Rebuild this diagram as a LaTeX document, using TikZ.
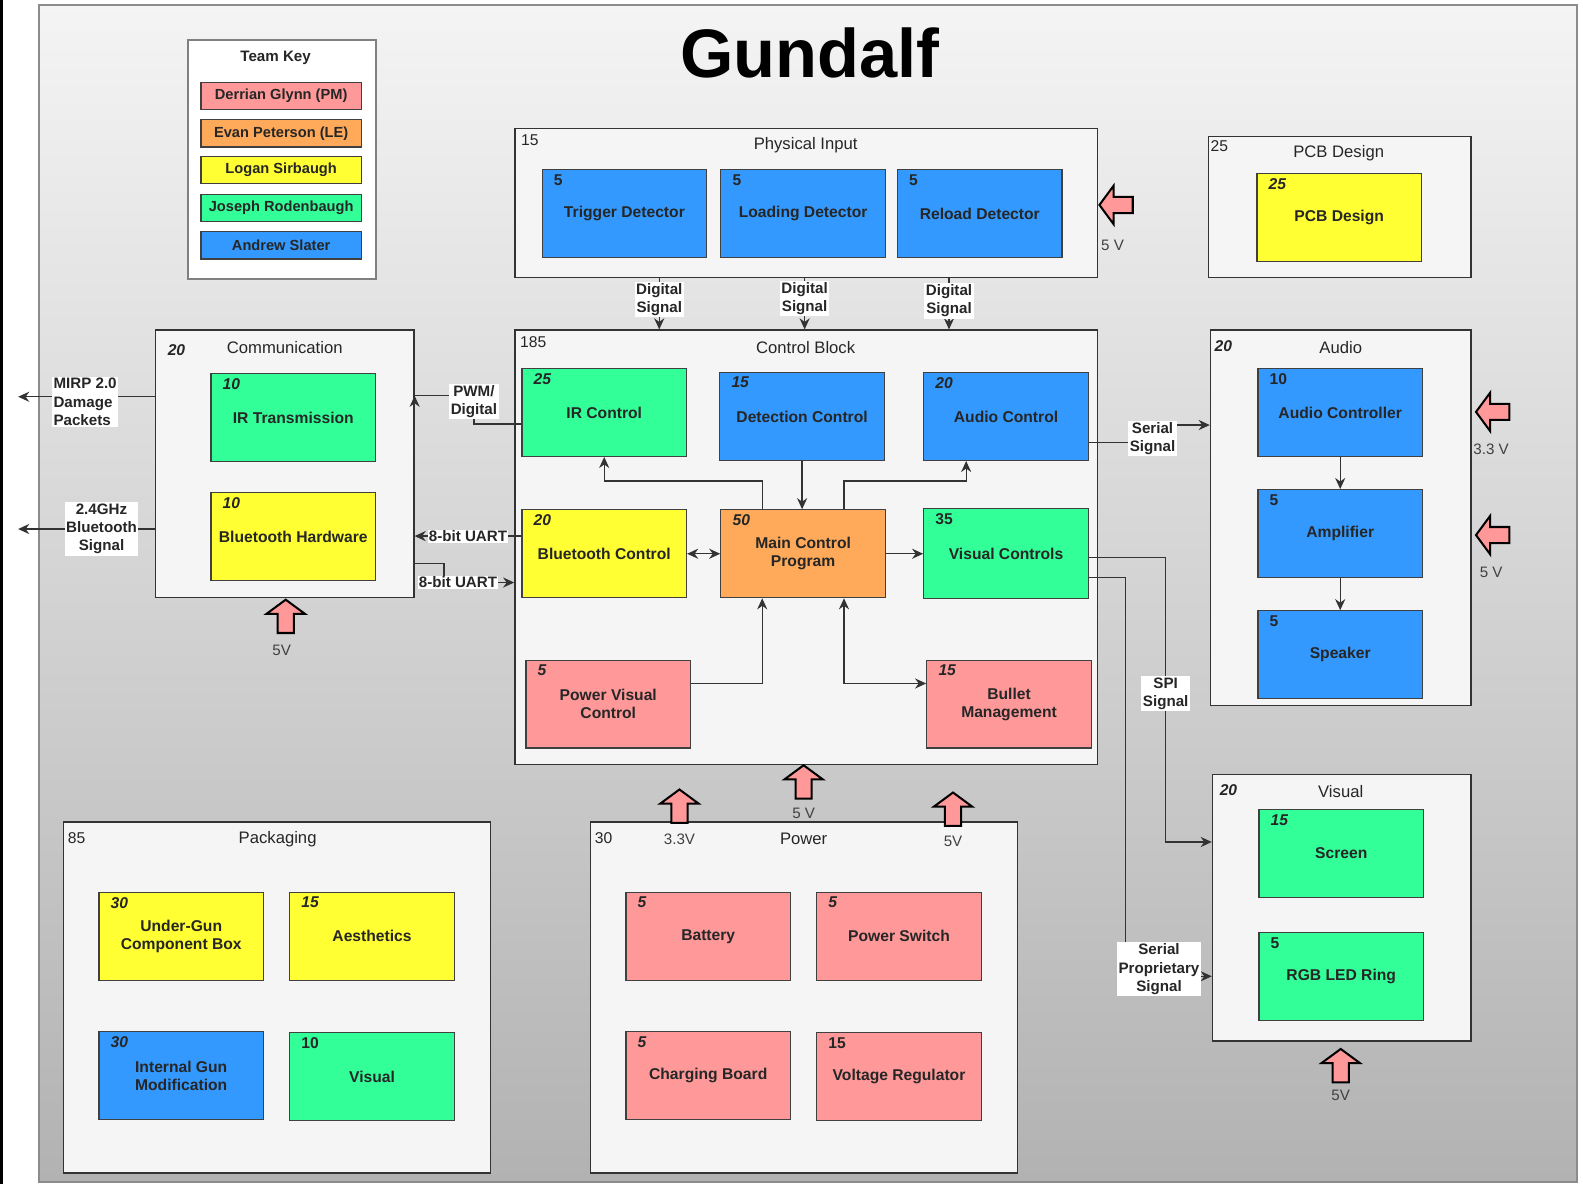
\documentclass[tikz,border=0pt]{standalone}
\usepackage{fontspec}
\setmainfont{Liberation Sans}
\usetikzlibrary{arrows.meta,calc}
\definecolor{cpink}{HTML}{FF9999}
\definecolor{corange}{HTML}{FFAA5A}
\definecolor{cyellow}{HTML}{FFFF33}
\definecolor{cgreen}{HTML}{33FF99}
\definecolor{cblue}{HTML}{3399FF}
\definecolor{outfill}{HTML}{F5F5F5}
\definecolor{pantop}{HTML}{F4F4F4}
\definecolor{panbot}{HTML}{B2B2B2}
\newcommand\pwrup[2]{\draw[pwr] (#1,#2) -- ++(-19,14) -- ++(11,0) -- ++(0,19) -- ++(16,0) -- ++(0,-19) -- ++(11,0) -- cycle;}
\newcommand\pwrleft[2]{\draw[pwr] (#1,#2) -- ++(14,-19) -- ++(0,11) -- ++(19,0) -- ++(0,16) -- ++(-19,0) -- ++(0,11) -- cycle;}
\begin{document}
\begin{tikzpicture}[x=1pt,y=-1pt,
  outerbox/.style={draw=black!80, line width=1.4pt, fill=outfill, inner sep=0pt},
  blk/.style={draw=black!75, line width=1.2pt, minimum width=163pt, minimum height=87pt, inner sep=2pt, align=center, text=black!85, font=\bfseries\fontsize{15.5pt}{18pt}\selectfont},
  nm/.style={anchor=north west, xshift=12pt, yshift=-5pt, inner sep=0pt, text=black!85, font=\bfseries\fontsize{15.5pt}{18pt}\selectfont},
  nmi/.style={nm, font=\bfseries\itshape\fontsize{15.5pt}{18pt}\selectfont},
  ttl/.style={inner sep=0pt, text=black!85, font=\fontsize{16.5pt}{19pt}\selectfont},
  onum/.style={anchor=west, inner sep=0pt, text=black!85, font=\fontsize{15.5pt}{18pt}\selectfont},
  onumi/.style={anchor=west, inner sep=0pt, text=black!85, font=\bfseries\itshape\fontsize{15.5pt}{18pt}\selectfont},
  conn/.style={draw=black!80, line width=1.3pt, -{Stealth[length=11pt,width=10pt]}},
  plain/.style={draw=black!80, line width=1.3pt},
  conn2/.style={draw=black!80, line width=1.3pt, {Stealth[length=11pt,width=10pt]}-{Stealth[length=11pt,width=10pt]}},
  lbl/.style={fill=white, inner sep=1.5pt, align=center, text=black!85, font=\bfseries\fontsize{15pt}{18pt}\selectfont},
  volt/.style={inner sep=0pt, text=black!75, font=\fontsize{15pt}{18pt}\selectfont},
  pwr/.style={draw=black, line width=2pt, fill=cpink, line join=miter},
  keyb/.style={draw=black!75, line width=1.2pt, minimum width=159pt, minimum height=27pt, inner sep=0pt, text=black!85, font=\bfseries\fontsize{14.5pt}{17pt}\selectfont}
]
\useasboundingbox (0,0) rectangle (1568,1173);
\fill[white] (0,0) rectangle (1568,1173);
\fill[black] (0,0) rectangle (3,1173);
\shade[top color=pantop, bottom color=panbot] (38.6,5) rectangle (1562,1171);
\draw[black!45, line width=1.5pt] (38.6,5) rectangle (1562,1171);

% Title
\node[inner sep=0pt, text=black, font=\bfseries\fontsize{68pt}{70pt}\selectfont] (title) at (802,52) {Gundalf};

% Team key
\node[draw=black!50, line width=2pt, fill=white, minimum width=186pt, minimum height=236pt, inner sep=0pt] (key) at (279,158) {};
\node[inner sep=0pt, text=black!85, font=\bfseries\fontsize{15pt}{18pt}\selectfont] (keyt) at (273,57) {Team Key};
\node[keyb, fill=cpink] (k1) at (278.5,95) {Derrian Glynn (PM)};
\node[keyb, fill=corange] (k2) at (278.5,132) {Evan Peterson (LE)};
\node[keyb, fill=cyellow] (k3) at (278.5,168.5) {Logan Sirbaugh};
\node[keyb, fill=cgreen] (k4) at (278.5,206) {Joseph Rodenbaugh};
\node[keyb, fill=cblue] (k5) at (278.5,243) {Andrew Slater};

% Outer boxes
\node[outerbox, minimum width=577pt, minimum height=148pt] (phys) at (798.5,201) {};
\node[outerbox, minimum width=260pt, minimum height=140pt] (pcb) at (1327,205) {};
\node[outerbox, minimum width=256pt, minimum height=265pt] (comm) at (282,459.5) {};
\node[outerbox, minimum width=577pt, minimum height=430pt] (ctrl) at (798.5,542) {};
\node[outerbox, minimum width=258pt, minimum height=372pt] (audio) at (1328,513) {};
\node[outerbox, minimum width=256pt, minimum height=264pt] (visual) at (1329,899) {};
\node[outerbox, minimum width=423pt, minimum height=348pt] (pack) at (274.5,988) {};
\node[outerbox, minimum width=423pt, minimum height=348pt] (power) at (796.5,988) {};

% Outer titles and numbers
\node[ttl] (tphys) at (798,144) {Physical Input};
\node[ttl] (tpcb) at (1326,152) {PCB Design};
\node[ttl] (tcomm) at (282,344) {Communication};
\node[ttl] (tctrl) at (798,344) {Control Block};
\node[ttl] (taudio) at (1328,344) {Audio};
\node[ttl] (tvis) at (1328,784) {Visual};
\node[ttl] (tpack) at (275,831) {Packaging};
\node[ttl] (tpow) at (796,831) {Power};
\node[onum] (nphys) at (516,139) {15};
\node[onum] (npcb) at (1199,145) {25};
\node[onumi] (ncomm) at (166,347) {20};
\node[onum] (nctrl) at (515,339) {185};
\node[onumi] (naudio) at (1203,343) {20};
\node[onumi] (nvis) at (1208,783) {20};
\node[onum] (npack) at (67,830) {85};
\node[onum] (npow) at (589,830) {30};

% Physical input
\node[blk, fill=cblue, label={[nm]north west:5}] (trig) at (618.5,211.5) {Trigger Detector};
\node[blk, fill=cblue, label={[nm]north west:5}] (load) at (795.5,211.5) {Loading Detector};
\node[blk, fill=cblue, label={[nm]north west:5}] (reld) at (970.5,211.5) {Reload Detector};
% PCB
\node[blk, fill=cyellow, label={[nmi]north west:25}] (pcbi) at (1326.5,215.5) {PCB Design};
% Communication
\node[blk, fill=cgreen, label={[nmi]north west:10}] (irt) at (290.5,413.5) {IR Transmission};
\node[blk, fill=cyellow, label={[nmi]north west:10}] (bth) at (290.5,531.5) {Bluetooth Hardware};
% Control block
\node[blk, fill=cgreen, label={[nmi]north west:25}] (irc) at (598.5,408.5) {IR Control};
\node[blk, fill=cblue, label={[nmi]north west:15}] (detc) at (794.5,412.5) {Detection Control};
\node[blk, fill=cblue, label={[nmi]north west:20}] (audc) at (996.5,412.5) {Audio Control};
\node[blk, fill=cyellow, label={[nmi]north west:20}] (btc) at (598.5,548.5) {Bluetooth Control};
\node[blk, fill=corange, label={[nmi]north west:50}] (mcp) at (795.5,548.5) {Main Control\\Program};
\node[blk, fill=cgreen, minimum height=89pt, label={[nm]north west:35}] (visc) at (996.5,548.5) {Visual Controls};
\node[blk, fill=cpink, label={[nmi]north west:5}] (pvc) at (602.5,697.5) {Power Visual\\Control};
\node[blk, fill=cpink, label={[nmi]north west:15}] (bul) at (999.5,697.5) {Bullet\\Management};
% Audio
\node[blk, fill=cblue, label={[nm]north west:10}] (actl) at (1327.5,408.5) {Audio Controller};
\node[blk, fill=cblue, label={[nm]north west:5}] (amp) at (1327.5,528.5) {Amplifier};
\node[blk, fill=cblue, label={[nm]north west:5}] (spk) at (1327.5,648.5) {Speaker};
% Visual
\node[blk, fill=cgreen, label={[nmi]north west:15}] (scr) at (1328.5,845.5) {Screen};
\node[blk, fill=cgreen, label={[nm]north west:5}] (rgb) at (1328.5,967.5) {RGB LED Ring};
% Packaging
\node[blk, fill=cyellow, label={[nmi]north west:30}] (ugb) at (179.5,927.5) {Under-Gun\\Component Box};
\node[blk, fill=cyellow, label={[nmi]north west:15}] (aes) at (368.5,927.5) {Aesthetics};
\node[blk, fill=cblue, label={[nmi]north west:30}] (igm) at (179.5,1065.5) {Internal Gun\\Modification};
\node[blk, fill=cgreen, label={[nm]north west:10}] (pvis) at (368.5,1066.5) {Visual};
% Power
\node[blk, fill=cpink, label={[nmi]north west:5}] (bat) at (701.5,927.5) {Battery};
\node[blk, fill=cpink, label={[nmi]north west:5}] (psw) at (890.5,927.5) {Power Switch};
\node[blk, fill=cpink, label={[nmi]north west:5}] (chg) at (701.5,1065.5) {Charging Board};
\node[blk, fill=cpink, label={[nm]north west:15}] (vreg) at (890.5,1066.5) {Voltage Regulator};

% Digital signals
\draw[conn] ([xshift=-145.5pt]phys.south) -- node[lbl, pos=0.42] (ds1) {Digital\\Signal} ([xshift=-145.5pt]ctrl.north);
\draw[conn] ([xshift=-1.5pt]phys.south) -- node[lbl, pos=0.4] (ds2) {Digital\\Signal} ([xshift=-1.5pt]ctrl.north);
\draw[conn] ([xshift=141.5pt]phys.south) -- node[lbl, pos=0.44] (ds3) {Digital\\Signal} ([xshift=141.5pt]ctrl.north);

% Control block internal
\draw[conn] ([xshift=-40.5pt]mcp.north) -- ++(0,-28) -| (irc.south);
\draw[conn] (detc.south) -- (detc.south |- mcp.north);
\draw[conn] ([xshift=40.5pt]mcp.north) -- ++(0,-28) -| ([xshift=-39.5pt]audc.south);
\draw[conn2] (btc.east) -- (mcp.west);
\draw[conn] (mcp.east) -- (visc.west);
\draw[conn] ([yshift=20.5pt]pvc.east) -| ([xshift=-40.5pt]mcp.south);
\draw[conn2] ([xshift=40.5pt]mcp.south) |- ([yshift=20.5pt]bul.west);

% Communication links
\coordinate (mirpend) at (18,393);
\coordinate (btend) at (18,524);
\draw[conn] ([yshift=66.5pt]comm.west) -- node[lbl, pos=0.51, yshift=-5pt, align=left] (mirp) {MIRP 2.0\\Damage\\Packets} (mirpend);
\draw[conn] ([yshift=-64.5pt]comm.west) -- node[lbl, pos=0.39] (btsig) {2.4GHz\\Bluetooth\\Signal} (btend);
\draw[plain] ([yshift=-11.5pt]irc.west) -- ++(-47,0) |- node[lbl, pos=0.4] (pwm) {PWM/\\Digital} ([yshift=67.5pt]comm.east);
\draw[conn] ([yshift=57pt]comm.east) -- ([yshift=67.5pt]comm.east);
\draw[conn] ([yshift=17.5pt]btc.west) -- node[lbl, inner sep=1pt] (uart1) {8-bit UART} ([yshift=-71.5pt]comm.east);
\draw[conn] ([yshift=-98.5pt]comm.east) -- ++(29,0) |- node[lbl, pos=0.6, inner sep=1pt] (uart2) {8-bit UART} ([yshift=-35pt]ctrl.west);

% Audio links
\draw[conn] ([yshift=-25.5pt]audc.east) -- ++(63,0) |- node[lbl, pos=0.1] (ser) {Serial\\Signal} ([yshift=92pt]audio.west);
\draw[conn] (actl.south) -- (amp.north);
\draw[conn] (amp.south) -- (spk.north);

% Visual links
\draw[conn] ([yshift=-3.5pt]visc.east) -- ++(76,0) |- node[lbl, pos=0.24] (spi) {SPI\\Signal} ([yshift=65pt]visual.west);
\draw[conn] ([yshift=-23.5pt]visc.east) -- ++(36,0) |- node[lbl, pos=0.695, yshift=7pt] (sps) {Serial\\Proprietary\\Signal} ([yshift=-68pt]visual.west);

% Power arrows
\pwrleft{1089}{203}
\node[volt] (v1) at (1102,243) {5 V};
\pwrup{283}{594}
\node[volt] (v2) at (279,644) {5V};
\pwrup{796}{758}
\node[volt] (v3) at (796,806) {5 V};
\pwrup{673}{782}
\node[volt] (v4) at (673,831) {3.3V};
\pwrup{944}{785}
\node[volt] (v5) at (944,833) {5V};
\pwrleft{1462}{408}
\node[volt] (v6) at (1477,445) {3.3 V};
\pwrleft{1462}{530}
\node[volt] (v7) at (1477,567) {5 V};
\pwrup{1328}{1039}
\node[volt] (v8) at (1328,1085) {5V};
\end{tikzpicture}
\end{document}
